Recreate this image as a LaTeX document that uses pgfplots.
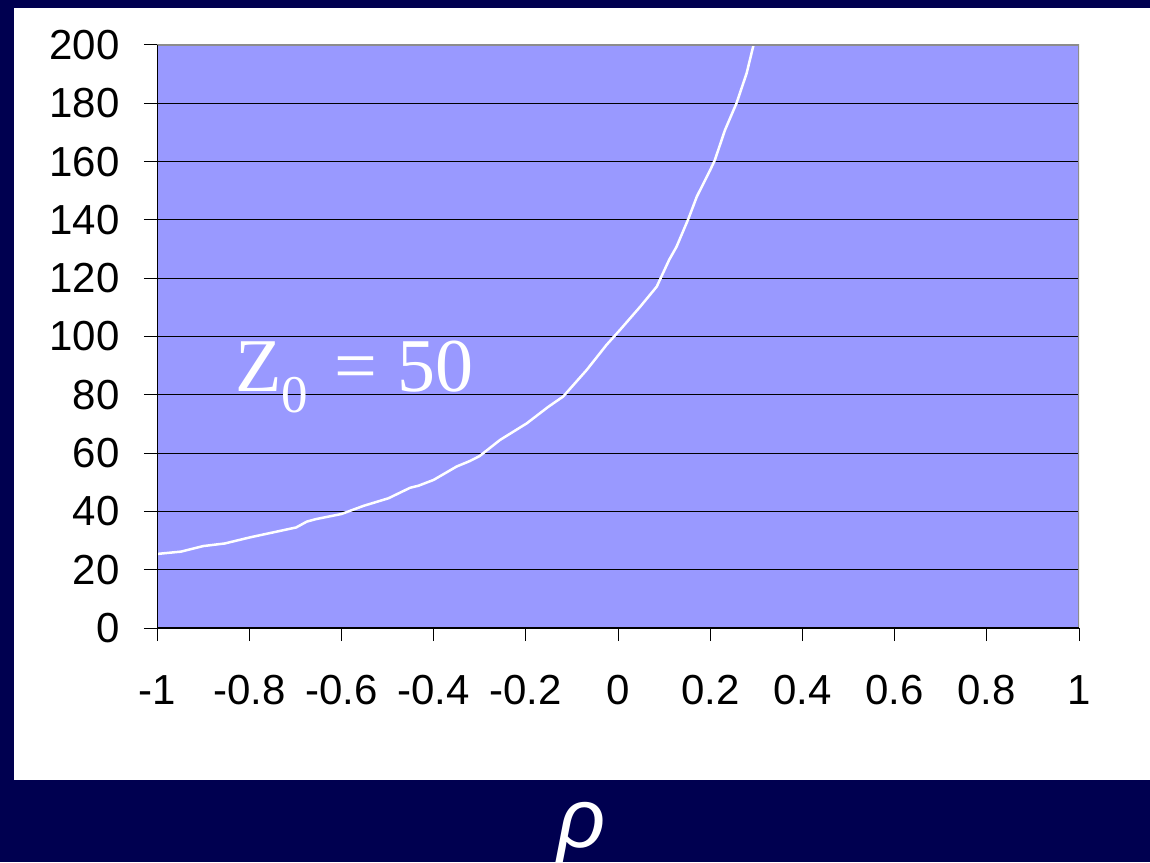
\documentclass[border=0pt]{standalone}
\usepackage{fontspec}
\setmainfont{Liberation Sans}
\newfontfamily\serifface{Liberation Serif}
\usepackage{pgfplots}
\pgfplotsset{compat=1.18}

\definecolor{slidenavy}{HTML}{000050}
\definecolor{plotbg}{HTML}{9999FF}
\definecolor{frameg}{HTML}{8C8C8C}

\begin{document}
\begin{tikzpicture}[x=1pt,y=1pt]
  \clip (0,0) rectangle (1150,862);
  % slide background and white chart panel
  \fill[slidenavy] (0,0) rectangle (1150,862);
  \fill[white] (14,82) rectangle (1150,854);

  \begin{axis}[
    at={(157pt,234pt)}, anchor=south west,
    width=922pt, height=583pt, scale only axis,
    xmin=-1, xmax=1, ymin=0, ymax=200,
    xtick={-1,-0.8,-0.6,-0.4,-0.2,0,0.2,0.4,0.6,0.8,1},
    ytick={0,20,40,60,80,100,120,140,160,180,200},
    axis background/.style={fill=plotbg},
    ymajorgrids, grid style={black, line width=1pt},
    axis line style={draw=none},
    tick align=outside, tick pos=left,
    major tick length=13pt,
    tick style={black, line width=1pt},
    /pgf/number format/assume math mode=true,
    ticklabel style={font=\fontsize{42}{50}\selectfont},
    xticklabel style={yshift=-31pt},
    yticklabel style={xshift=-21pt},
    clip=true,
  ]
    \addplot[white, line width=2.5pt, no marks] coordinates {
      (-1,25.4) (-0.948,26.2) (-0.90,28.1) (-0.853,29.0) (-0.798,31.1)
      (-0.748,32.8) (-0.698,34.5) (-0.675,36.5) (-0.654,37.4) (-0.60,39.1)
      (-0.552,41.9) (-0.498,44.5) (-0.451,48.1) (-0.433,48.8) (-0.40,50.8)
      (-0.35,55.4) (-0.321,57.3) (-0.30,59.0) (-0.256,64.5) (-0.198,70.2)
      (-0.151,75.9) (-0.119,79.4) (-0.068,88.5) (-0.025,97.1) (0.004,102.2)
      (0.048,110.2) (0.084,117.1) (0.111,126.3) (0.127,130.8) (0.153,140.5)
      (0.171,148.0) (0.20,157.1) (0.210,160.5) (0.232,170.8) (0.257,180.0)
      (0.279,190.3) (0.294,200)
    };
    % plot-area frame: grey top/right, black left/bottom
    \draw[frameg, line width=1.5pt] (rel axis cs:0,1) -- (rel axis cs:1,1) -- (rel axis cs:1,0);
    \draw[black, line width=1.5pt] (rel axis cs:0,1) -- (rel axis cs:0,0) -- (rel axis cs:1,0);
    \node[anchor=base west, inner sep=0pt, text=white,
          font=\serifface\fontsize{76}{80}\selectfont]
      at (axis cs:-0.831,81.0)
      {Z\raisebox{-21pt}{\fontsize{53}{56}\selectfont 0}\hspace{26pt}=\hspace{21pt}50};
  \end{axis}

  % horizontal axis symbol below the panel
  \node[anchor=base, inner sep=0pt, text=white,
        font=\itshape\fontsize{84}{90}\selectfont] at (582,15) {ρ};
\end{tikzpicture}
\end{document}
